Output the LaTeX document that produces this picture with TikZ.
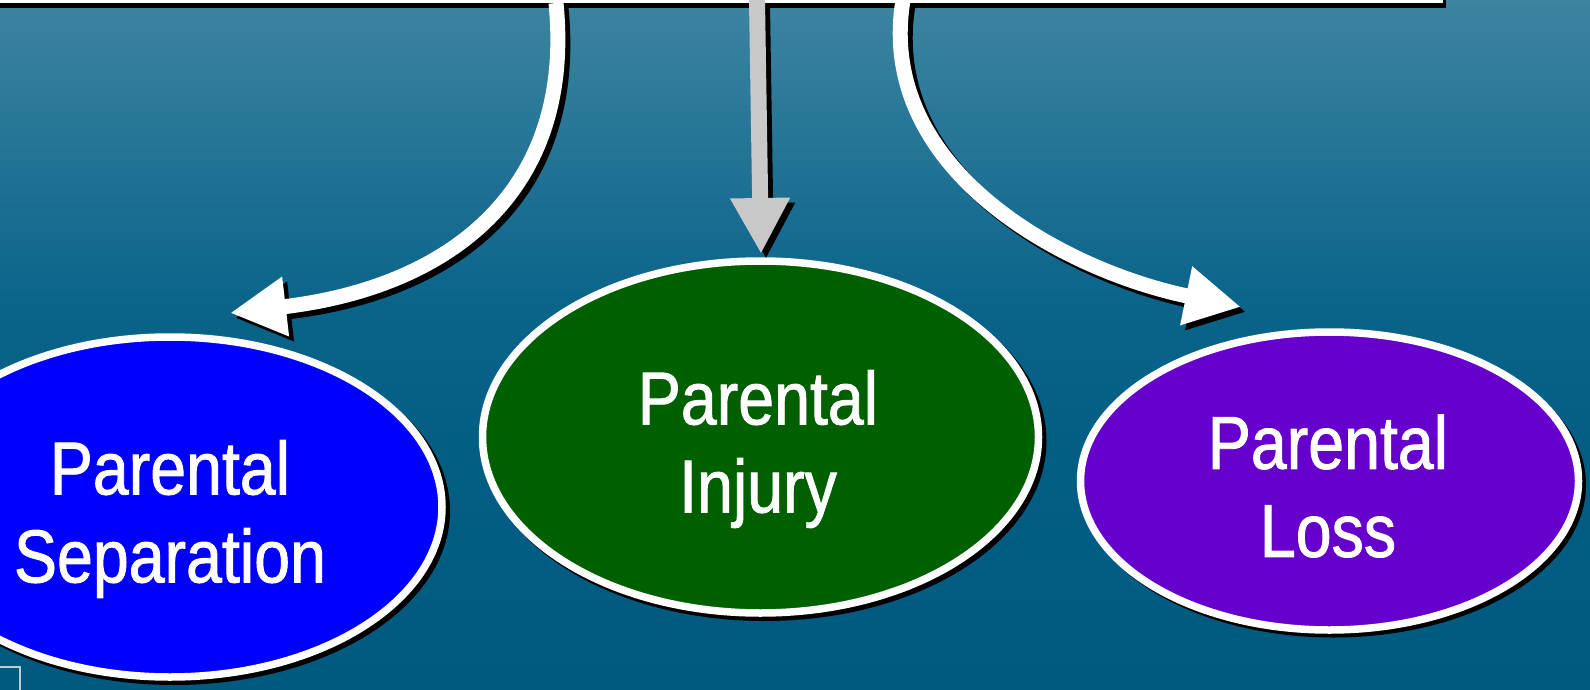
\documentclass[tikz,border=0pt]{standalone}
\usepackage{fontspec}
\setmainfont{Liberation Sans}[FakeStretch=0.86,FakeBold=1.2]
\usetikzlibrary{shapes.geometric,arrows.meta}
\definecolor{bgtop}{RGB}{60,132,160}
\definecolor{bgA}{RGB}{36,116,150}
\definecolor{bgB}{RGB}{10,100,138}
\definecolor{bgC}{RGB}{2,93,132}
\definecolor{bgbot}{RGB}{0,90,128}
\definecolor{ovblue}{RGB}{0,0,255}
\definecolor{ovgreen}{RGB}{0,96,0}
\definecolor{ovpurple}{RGB}{102,0,204}
\definecolor{arrgray}{RGB}{200,200,200}
\definecolor{boxline}{RGB}{190,205,212}
\pgfdeclareverticalshading{slidebg}{100bp}{color(0bp)=(bgbot); color(25bp)=(bgbot); color(42bp)=(bgC); color(53bp)=(bgB); color(64bp)=(bgA); color(75bp)=(bgtop); color(100bp)=(bgtop)}
\begin{document}
\begin{tikzpicture}[x=1pt,y=-1pt,
  lbl/.style={text=white, align=center, inner sep=0pt, font=\fontsize{75}{88}\selectfont},
  oval/.style={ellipse, draw=white, line width=7.5pt, inner sep=0pt},
  ovshadow/.style={fill=black},
  tip/.style={-{Triangle[length=56pt,width=56pt]}},
  curvearrow/.style={tip, draw=white, line width=15pt},
  straightarrow/.style={tip, draw=arrgray, line width=16pt},
  arrshadow/.style={draw=black, transform canvas={shift={(5pt,-5pt)}}},
  topbox/.style={rectangle, fill=white, inner sep=0pt, minimum width=1480pt, minimum height=60pt, anchor=south west}
]
\useasboundingbox (0,0) rectangle (1590,690);
% background
\shade[shading=slidebg] (0,0) rectangle (1590,690);
% small box at bottom left
\draw[boxline, line width=1.5pt] (-10,667) rectangle (20,700);
% top box
\fill[black] (-33,-60) rectangle (1446,8);
\node[topbox] (bar) at (-37,3) {};
% coordinates
\coordinate (s1) at (556,3);
\coordinate (s2) at (757,0);
\coordinate (s3) at (903,0);
\coordinate (e1) at (230,313);
\coordinate (e2) at (761,254);
\coordinate (e3) at (1241,307);
% ellipse shadows
\fill[ovshadow] (174,511) ellipse [x radius=276, y radius=174];
\fill[ovshadow] (764.5,441) ellipse [x radius=282, y radius=180];
\fill[ovshadow] (1333.5,485) ellipse [x radius=252.5, y radius=152.5];
% ellipses
\node[oval, fill=ovblue, minimum width=544pt, minimum height=340pt] (sep) at (170,507) {};
\node[oval, fill=ovgreen, minimum width=556pt, minimum height=352pt] (inj) at (760.5,437) {};
\node[oval, fill=ovpurple, minimum width=498pt, minimum height=298pt] (loss) at (1329.5,481) {};
\node[lbl] (septext) at (170,519) {Parental\\Separation};
\node[lbl] (injtext) at (758,449) {Parental\\Injury};
\node[lbl] (losstext) at (1328,486) {Parental\\Loss};
% arrows: shadows
\draw[curvearrow, arrshadow] (s1) .. controls (575,195) and (445,288) .. (e1);
\draw[straightarrow, arrshadow] (s2) -- (e2);
\draw[curvearrow, arrshadow] (s3) .. controls (875,170) and (1065,271) .. (e3);
% arrows
\draw[curvearrow] (s1) .. controls (575,195) and (445,288) .. (e1);
\draw[straightarrow] (s2) -- (e2);
\draw[curvearrow] (s3) .. controls (875,170) and (1065,271) .. (e3);
\end{tikzpicture}
\end{document}
